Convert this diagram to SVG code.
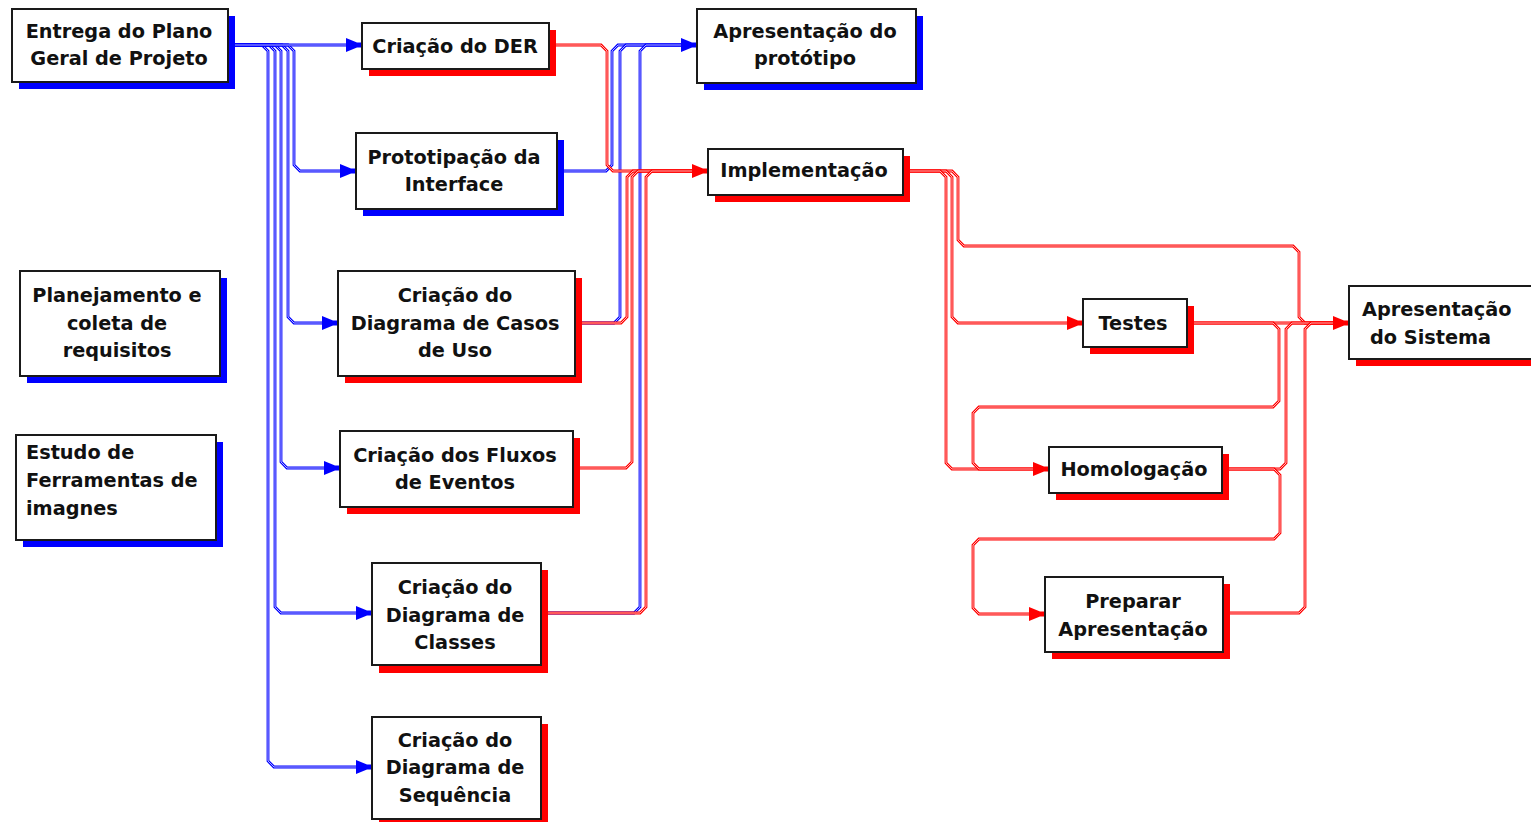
<svg xmlns="http://www.w3.org/2000/svg" xmlns:xlink="http://www.w3.org/1999/xlink" width="1531" height="822" viewBox="0 0 1531 822">
<style>
  .box { fill:#ffffff; stroke:#1a1a1a; stroke-width:2; }
  .sb { fill:#0000ff; }
  .sr { fill:#ff0000; }
  .t { font-family:"DejaVu Sans","Verdana",sans-serif; font-weight:bold; font-size:19.3px; fill:#111; text-anchor:middle; }
  .tl { text-anchor:start; }
  .cb { fill:none; stroke:#0000ff; stroke-width:2.8; }
  .cr { fill:none; stroke:#ff0000; stroke-width:2.8; }
  .core { fill:none; stroke:#ffffff; stroke-width:0.7; }
  .ab { fill:#0000ff; }
  .ar { fill:#ff0000; }
</style>
<defs>
  <path id="ah" d="M0,-2.5 L-5,-2.5 L-16,-7 L-16,7 L-5,2.5 L0,2.5 Z"/>
  <path id="b1" d="M228,45 H362"/>
  <path id="b2" d="M228,45 H288 L294,51 V165 L300,171 H356"/>
  <path id="b3" d="M228,45 H282 L288,51 V317 L294,323 H338"/>
  <path id="b4" d="M228,45 H275 L281,51 V462 L287,468 H340"/>
  <path id="b5" d="M228,45 H269 L275,51 V607 L281,613 H372"/>
  <path id="b6" d="M228,45 H262 L268,51 V761 L274,767 H372"/>
  <path id="b7" d="M557,171 H606 L612,165 V51 L618,45 H697"/>
  <path id="b8" d="M575,323 H614 L620,317 V51 L626,45 H697"/>
  <path id="b9" d="M541,613 H634 L640,607 V51 L646,45 H697"/>
  <path id="r1" d="M549,45 H601 L607,51 V165 L613,171 H708"/>
  <path id="r2" d="M575,323 H621 L627,317 V177 L633,171 H708"/>
  <path id="r3" d="M573,468 H626 L632,462 V177 L638,171 H708"/>
  <path id="r4" d="M541,613 H640 L646,607 V177 L652,171 H708"/>
  <path id="r5" d="M903,171 H952 L958,177 V240 L964,246 H1293 L1299,252 V317 L1305,323 H1349"/>
  <path id="r6" d="M903,171 H946 L952,177 V317 L958,323 H1083"/>
  <path id="r7" d="M903,171 H940 L946,177 V463 L952,469 H1049"/>
  <path id="r8" d="M1187,323 H1349"/>
  <path id="r9" d="M1187,323 H1273 L1279,329 V401 L1273,407 H979 L973,413 V463 L979,469 H1049"/>
  <path id="r10" d="M1222,469 H1280 L1286,463 V329 L1292,323 H1349"/>
  <path id="r11" d="M1222,469 H1274 L1280,475 V533 L1274,539 H979 L973,545 V608 L979,614 H1045"/>
  <path id="r12" d="M1223,613 H1299 L1305,607 V329 L1311,323 H1349"/>
</defs>
<rect width="1531" height="822" fill="#ffffff"/>

<g id="connectors">
  <use xlink:href="#b6" class="cb"/><use xlink:href="#b6" class="core"/>
  <use xlink:href="#b5" class="cb"/><use xlink:href="#b5" class="core"/>
  <use xlink:href="#b4" class="cb"/><use xlink:href="#b4" class="core"/>
  <use xlink:href="#b3" class="cb"/><use xlink:href="#b3" class="core"/>
  <use xlink:href="#b2" class="cb"/><use xlink:href="#b2" class="core"/>
  <use xlink:href="#b1" class="cb"/><use xlink:href="#b1" class="core"/>
  <use xlink:href="#b7" class="cb"/><use xlink:href="#b7" class="core"/>
  <use xlink:href="#b8" class="cb"/><use xlink:href="#b8" class="core"/>
  <use xlink:href="#b9" class="cb"/><use xlink:href="#b9" class="core"/>
  <use xlink:href="#r1" class="cr"/><use xlink:href="#r1" class="core"/>
  <use xlink:href="#r2" class="cr"/><use xlink:href="#r2" class="core"/>
  <use xlink:href="#r3" class="cr"/><use xlink:href="#r3" class="core"/>
  <use xlink:href="#r4" class="cr"/><use xlink:href="#r4" class="core"/>
  <use xlink:href="#r5" class="cr"/><use xlink:href="#r5" class="core"/>
  <use xlink:href="#r6" class="cr"/><use xlink:href="#r6" class="core"/>
  <use xlink:href="#r7" class="cr"/><use xlink:href="#r7" class="core"/>
  <use xlink:href="#r8" class="cr"/><use xlink:href="#r8" class="core"/>
  <use xlink:href="#r9" class="cr"/><use xlink:href="#r9" class="core"/>
  <use xlink:href="#r10" class="cr"/><use xlink:href="#r10" class="core"/>
  <use xlink:href="#r11" class="cr"/><use xlink:href="#r11" class="core"/>
  <use xlink:href="#r12" class="cr"/><use xlink:href="#r12" class="core"/>
  <use xlink:href="#ah" class="ab" x="362" y="45"/>
  <use xlink:href="#ah" class="ab" x="356" y="171"/>
  <use xlink:href="#ah" class="ab" x="338" y="323"/>
  <use xlink:href="#ah" class="ab" x="340" y="468"/>
  <use xlink:href="#ah" class="ab" x="372" y="613"/>
  <use xlink:href="#ah" class="ab" x="372" y="767"/>
  <use xlink:href="#ah" class="ab" x="697" y="45"/>
  <use xlink:href="#ah" class="ar" x="708" y="171"/>
  <use xlink:href="#ah" class="ar" x="1083" y="323"/>
  <use xlink:href="#ah" class="ar" x="1049" y="469"/>
  <use xlink:href="#ah" class="ar" x="1045" y="614"/>
  <use xlink:href="#ah" class="ar" x="1349" y="323"/>
</g>

<g id="node-entrega">
  <rect class="sb" x="19" y="16" width="216" height="73"/>
  <rect class="box" x="12" y="9" width="216" height="73"/>
  <text class="t" x="119" y="38">Entrega do Plano</text>
  <text class="t" x="119" y="65">Geral de Projeto</text>
</g>
<g id="node-der">
  <rect class="sr" x="369" y="30" width="187" height="46"/>
  <rect class="box" x="362" y="23" width="187" height="46"/>
  <text class="t" x="455" y="53">Criação do DER</text>
</g>
<g id="node-prototipo">
  <rect class="sb" x="704" y="16" width="219" height="74"/>
  <rect class="box" x="697" y="9" width="219" height="74"/>
  <text class="t" x="805" y="38">Apresentação do</text>
  <text class="t" x="805" y="65">protótipo</text>
</g>
<g id="node-prototipacao">
  <rect class="sb" x="363" y="140" width="201" height="76"/>
  <rect class="box" x="356" y="133" width="201" height="76"/>
  <text class="t" x="454" y="164">Prototipação da</text>
  <text class="t" x="454" y="191">Interface</text>
</g>
<g id="node-implementacao">
  <rect class="sr" x="715" y="156" width="195" height="46"/>
  <rect class="box" x="708" y="149" width="195" height="46"/>
  <text class="t" x="804" y="177">Implementação</text>
</g>
<g id="node-planejamento">
  <rect class="sb" x="27" y="278" width="200" height="105"/>
  <rect class="box" x="20" y="271" width="200" height="105"/>
  <text class="t" x="117" y="302">Planejamento e</text>
  <text class="t" x="117" y="330">coleta de</text>
  <text class="t" x="117" y="357">requisitos</text>
</g>
<g id="node-estudo">
  <rect class="sb" x="23" y="442" width="200" height="105"/>
  <rect class="box" x="16" y="435" width="200" height="105"/>
  <text class="t tl" x="26" y="459">Estudo de</text>
  <text class="t tl" x="26" y="487">Ferramentas de</text>
  <text class="t tl" x="26" y="515">imagnes</text>
</g>
<g id="node-casos">
  <rect class="sr" x="345" y="278" width="237" height="105"/>
  <rect class="box" x="338" y="271" width="237" height="105"/>
  <text class="t" x="455" y="302">Criação do</text>
  <text class="t" x="455" y="330">Diagrama de Casos</text>
  <text class="t" x="455" y="357">de Uso</text>
</g>
<g id="node-fluxos">
  <rect class="sr" x="347" y="438" width="233" height="76"/>
  <rect class="box" x="340" y="431" width="233" height="76"/>
  <text class="t" x="455" y="462">Criação dos Fluxos</text>
  <text class="t" x="455" y="489">de Eventos</text>
</g>
<g id="node-classes">
  <rect class="sr" x="379" y="570" width="169" height="103"/>
  <rect class="box" x="372" y="563" width="169" height="102"/>
  <text class="t" x="455" y="594">Criação do</text>
  <text class="t" x="455" y="622">Diagrama de</text>
  <text class="t" x="455" y="649">Classes</text>
</g>
<g id="node-sequencia">
  <rect class="sr" x="379" y="724" width="169" height="105"/>
  <rect class="box" x="372" y="717" width="169" height="102"/>
  <text class="t" x="455" y="747">Criação do</text>
  <text class="t" x="455" y="774">Diagrama de</text>
  <text class="t" x="455" y="802">Sequência</text>
</g>
<g id="node-testes">
  <rect class="sr" x="1090" y="306" width="104" height="48"/>
  <rect class="box" x="1083" y="299" width="104" height="48"/>
  <text class="t" x="1133" y="330">Testes</text>
</g>
<g id="node-homologacao">
  <rect class="sr" x="1056" y="454" width="173" height="46"/>
  <rect class="box" x="1049" y="447" width="173" height="46"/>
  <text class="t" x="1134" y="476">Homologação</text>
</g>
<g id="node-preparar">
  <rect class="sr" x="1052" y="584" width="178" height="75"/>
  <rect class="box" x="1045" y="577" width="178" height="75"/>
  <text class="t" x="1133" y="608">Preparar</text>
  <text class="t" x="1133" y="636">Apresentação</text>
</g>
<g id="node-sistema">
  <rect class="sr" x="1356" y="293" width="190" height="73"/>
  <rect class="box" x="1349" y="286" width="190" height="73"/>
  <text class="t tl" x="1362" y="316">Apresentação</text>
  <text class="t tl" x="1370" y="344">do Sistema</text>
</g>
</svg>
